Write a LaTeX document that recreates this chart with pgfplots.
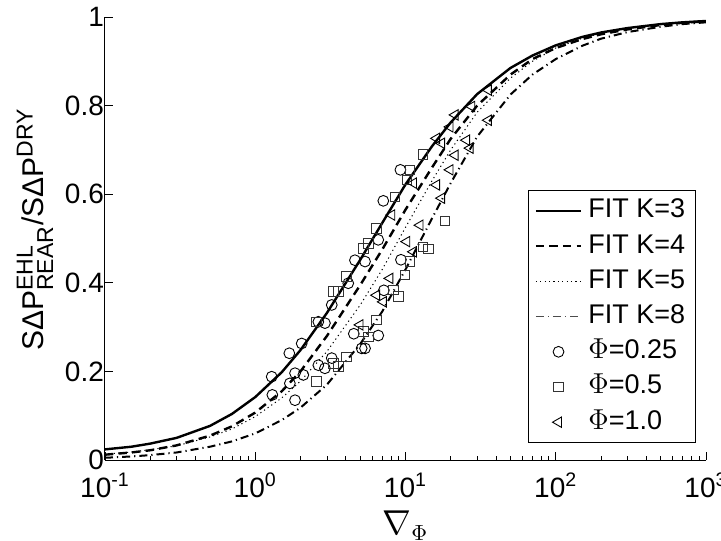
\documentclass[border=0pt]{standalone}
\usepackage{fontspec}
\setmainfont{Liberation Sans}
\usepackage{amsmath}
\usepackage{pgfplots}
\usepackage{pgfplotstable}
\pgfplotsset{compat=1.18}
\pgfplotsset{
  lineleg/.style={legend image code/.code={\draw[##1] (0cm,0cm) -- (0.8cm,0cm);}},
  markleg/.style={legend image code/.code={\draw[mark repeat=2,mark phase=2,##1] plot coordinates {(0cm,0cm) (0.4cm,0cm) (0.8cm,0cm)};}},
}
\newcommand{\scr}[1]{\hbox{\fontsize{11.5}{12}\selectfont #1}}

\pgfplotstableread{
x y
0.1 0.024
0.15 0.030
0.2 0.037
0.3 0.050
0.5 0.077
0.7 0.104
1 0.142
1.5 0.198
2 0.248
3 0.332
5 0.452
7 0.535
10 0.622
15 0.708
20 0.762
30 0.826
50 0.885
70 0.913
100 0.936
150 0.955
200 0.965
300 0.975
500 0.984
700 0.988
1000 0.991
}\fitA

\pgfplotstableread{
x y
0.1 0.012
0.15 0.017
0.2 0.022
0.3 0.033
0.5 0.055
0.7 0.076
1 0.107
1.5 0.155
2 0.200
3 0.280
5 0.395
7 0.475
10 0.565
15 0.660
20 0.725
30 0.800
50 0.870
70 0.905
100 0.930
150 0.950
200 0.961
300 0.972
500 0.982
700 0.987
1000 0.990
}\fitB

\pgfplotstableread{
x y
0.1 0.013
0.15 0.018
0.2 0.023
0.3 0.032
0.5 0.052
0.7 0.070
1 0.098
1.5 0.140
2 0.178
3 0.245
5 0.350
7 0.430
10 0.525
15 0.630
20 0.700
30 0.785
50 0.862
70 0.900
100 0.930
150 0.952
200 0.963
300 0.974
500 0.984
700 0.988
1000 0.991
}\fitC

\pgfplotstableread{
x y
0.1 0.005
0.15 0.008
0.2 0.011
0.3 0.017
0.5 0.030
0.7 0.042
1 0.060
1.5 0.090
2 0.118
3 0.170
5 0.262
7 0.335
10 0.430
15 0.545
20 0.625
30 0.730
50 0.825
70 0.870
100 0.905
150 0.935
200 0.951
300 0.966
500 0.978
700 0.984
1000 0.988
}\fitD

\pgfplotstableread{
x y
1.287 0.188
1.686 0.241
2.038 0.263
2.63 0.312
2.91 0.309
3.23 0.350
4.16 0.399
4.61 0.451
5.38 0.448
7.12 0.585
9.25 0.655
6.59 0.497
9.33 0.452
7.18 0.383
4.53 0.285
6.59 0.281
5.11 0.252
5.38 0.252
3.23 0.230
2.63 0.214
2.91 0.207
2.09 0.192
1.84 0.196
1.70 0.173
1.84 0.135
1.30 0.147
}\phiA

\pgfplotstableread{
x y
8.51 0.594
18.3 0.540
6.43 0.523
5.65 0.489
5.24 0.478
4.06 0.414
3.31 0.380
3.57 0.380
2.56 0.312
13.1 0.481
14.2 0.476
10.7 0.448
9.92 0.418
8.30 0.384
8.95 0.369
6.43 0.316
5.24 0.290
5.65 0.278
4.06 0.233
3.31 0.218
3.57 0.211
2.56 0.178
13.1 0.690
10.7 0.655
10.2 0.632
}\phiB

\pgfplotstableread{
x y
35.6 0.835
27.6 0.798
21.4 0.779
19.8 0.752
16.1 0.726
17.4 0.715
35.6 0.767
25.5 0.722
26.9 0.704
21.4 0.688
19.8 0.655
16.1 0.621
17.4 0.591
12.5 0.530
10.2 0.493
11.3 0.470
7.88 0.410
6.43 0.372
7.12 0.357
4.98 0.305
8.10 0.553
11.3 0.625
}\phiC

\begin{document}
\begin{tikzpicture}
\begin{axis}[
  scale only axis, width=300.5pt, height=221.5pt,
  xmode=log, xmin=0.1, xmax=1000, ymin=0, ymax=1,
  axis x line*=bottom, axis y line*=left,
  axis line style={line width=0.5pt},
  tick align=inside,
  tick style={line width=0.4pt, black},
  major tick length=4pt, minor tick length=2.2pt,
  xtick={0.1,1,10,100,1000},
  xticklabels={10\textsuperscript{-1},10\textsuperscript{0},10\textsuperscript{1},10\textsuperscript{2},10\textsuperscript{3}},
  ytick={0,0.2,0.4,0.6,0.8,1},
  yticklabels={0,0.2,0.4,0.6,0.8,1},
  tick label style={font=\fontsize{14}{16}\selectfont},
  xticklabel style={yshift=-3pt},
  yticklabel style={xshift=3pt},
  xlabel={$\nabla_{\Phi}$},
  xlabel style={font=\fontsize{16}{18}\selectfont, at={(rel axis cs:0.5,-0.1)}, anchor=north},
  ylabel={SΔP$^{\scr{EHL}}_{\scr{REAR}}$/SΔP$^{\scr{DRY}}$},
  ylabel style={font=\fontsize{15}{17}\selectfont, at={(rel axis cs:-0.1165,0.52)}, anchor=center},
  legend cell align=left,
  legend style={at={(rel axis cs:0.983,0.0377)}, anchor=south east,
    font=\fontsize{13.5}{15}\selectfont, draw=black, line width=0.5pt,
    inner xsep=3pt, inner ysep=1.5pt, row sep=0pt, column sep=1pt,
    nodes={text height=10pt, text depth=3.2pt, inner ysep=2.2pt}},
  lineleg,
  mark size=2.7pt,
]
\coordinate (bl) at (rel axis cs:-0.1747,-0.1806);
\coordinate (tr) at (rel axis cs:1.025,1.0384);

\addplot[black, line width=1.2pt] table {\fitA};
\addlegendentry{FIT K=3}
\addplot[black, line width=1.2pt, dash pattern=on 4.2pt off 2.6pt] table {\fitB};
\addlegendentry{FIT K=4}
\addplot[black, line width=0.5pt, dash pattern=on 0.6pt off 1.6pt] table {\fitC};
\addlegendentry{FIT K=5}
\addlegendimage{black!70, line width=0.4pt, dash pattern=on 4pt off 2pt on 0.6pt off 2pt}
\addlegendentry{FIT K=8}
\addplot[forget plot, black, line width=1.0pt, dash pattern=on 4pt off 2pt on 0.6pt off 2pt] table {\fitD};

\addplot[only marks, mark=o, mark options={black, line width=0.45pt}, markleg] table {\phiA};
\addlegendentry{$\Phi$=0.25}
\addplot[only marks, mark=square, mark size=2.4pt, mark options={black!80, line width=0.45pt}, markleg] table {\phiB};
\addlegendentry{$\Phi$=0.5}
\addplot[only marks, mark=triangle, mark size=3pt, mark options={black, line width=0.45pt, rotate=90}, markleg] table {\phiC};
\addlegendentry{$\Phi$=1.0}
\end{axis}
\pgfresetboundingbox
\path[use as bounding box] (bl) rectangle (tr);
\end{tikzpicture}
\end{document}
